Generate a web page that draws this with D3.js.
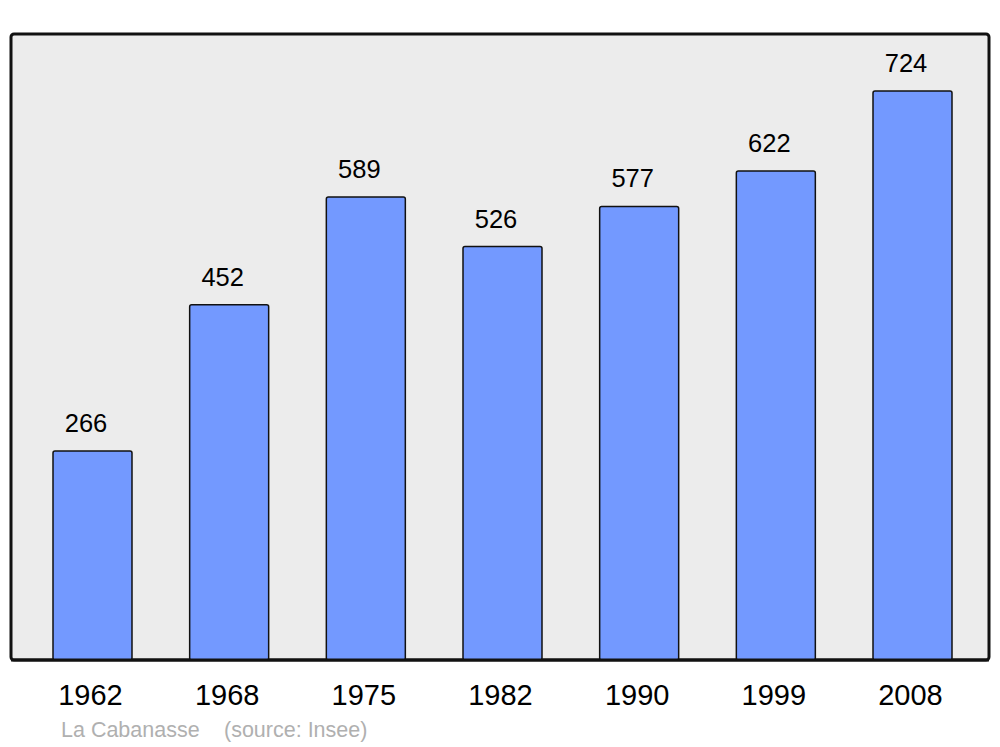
<!DOCTYPE html>
<html><head><meta charset="utf-8">
<script src="https://cdn.jsdelivr.net/npm/d3@7/dist/d3.min.js"></script>
<style>body{margin:0;background:#fff}svg{display:block}</style>
</head><body>
<script>
const years = ["1962","1968","1975","1982","1990","1999","2008"];
const population = [266,452,589,526,577,622,724];
const title = "La Cabanasse";
const source = "(source: Insee)";

const W = 1000, H = 747;
const frame = {x0: 11, y0: 34, x1: 989, y1: 660};
const svg = d3.select("body").append("svg").attr("width", W).attr("height", H);

svg.append("rect").attr("x", frame.x0).attr("y", frame.y0)
  .attr("width", frame.x1 - frame.x0).attr("height", frame.y1 - frame.y0)
  .attr("rx", 3).attr("fill", "#ececec").attr("stroke", "#111").attr("stroke-width", 3);

const x = d3.scaleBand().domain(years).range([53, 952]).paddingInner(0.422).paddingOuter(0);
const y = d3.scaleLinear().domain([0, d3.max(population) * 1.1]).range([frame.y1, frame.y0]);

const g = svg.append("g");
g.selectAll("rect.bar").data(years).join("rect").attr("class", "bar")
  .attr("x", d => x(d)).attr("width", x.bandwidth())
  .attr("y", (d, i) => y(population[i]))
  .attr("height", (d, i) => y(0) - y(population[i]))
  .attr("rx", 2).attr("fill", "#7399ff").attr("stroke", "#111").attr("stroke-width", 1.5);

svg.append("line").attr("x1", frame.x0).attr("x2", frame.x1).attr("y1", frame.y1).attr("y2", frame.y1)
  .attr("stroke", "#111").attr("stroke-width", 3);

g.selectAll("text.val").data(years).join("text").attr("class", "val")
  .attr("x", d => x(d) + x.bandwidth() / 2 - 6.5)
  .attr("y", (d, i) => y(population[i]) - 19)
  .attr("text-anchor", "middle").attr("font-family", "Liberation Sans, Arial, sans-serif")
  .attr("font-size", 25.5).attr("fill", "#000")
  .text((d, i) => population[i]);

g.selectAll("text.yr").data(years).join("text").attr("class", "yr")
  .attr("x", d => x(d) + x.bandwidth() / 2 - 2)
  .attr("y", 705)
  .attr("text-anchor", "middle").attr("font-family", "Liberation Sans, Arial, sans-serif")
  .attr("font-size", 29).attr("fill", "#000")
  .text(d => d);

const st = svg.append("text").attr("x", 61).attr("y", 737)
  .attr("font-family", "Liberation Sans, Arial, sans-serif").attr("font-size", 21.5).attr("fill", "#b0b0b0");
st.append("tspan").text(title);
st.append("tspan").attr("x", 224).text(source);
</script>
</body></html>
